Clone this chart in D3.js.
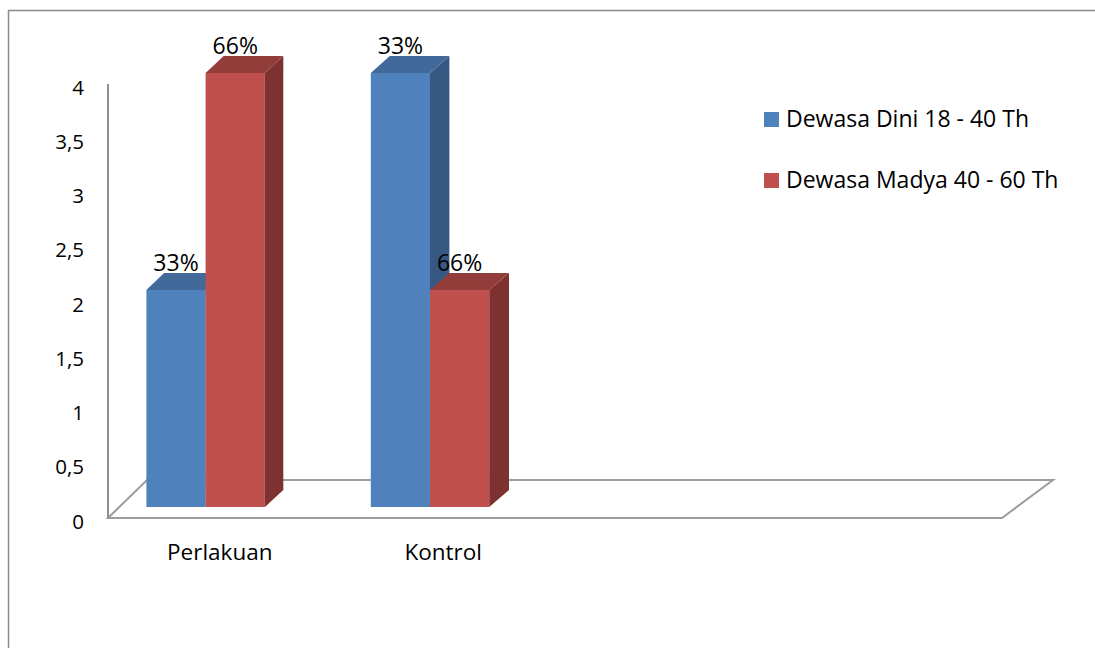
<!DOCTYPE html>
<html>
<head>
<meta charset="utf-8">
<script src="https://cdn.jsdelivr.net/npm/d3@7"></script>
<style>
  html, body { margin: 0; padding: 0; background: #ffffff; }
  svg { display: block; }
  text { font-family: "Open Sans", "Noto Sans", sans-serif; fill: #000; }
</style>
</head>
<body>
<svg id="chart" width="1095" height="648"></svg>
<script>
// Category slots on the floor (the sheet has two empty rows after the data)
const categories = ["Perlakuan", "Kontrol", "", ""];
const seriesNames = ["Dewasa Dini 18 - 40 Th", "Dewasa Madya 40 - 60 Th"];
const dewasaDini = [2, 4, null, null];
const dewasaMadya = [4, 2, null, null];
const dewasaDiniLabels = ["33%", "33%"];
const dewasaMadyaLabels = ["66%", "66%"];
const yTicks = [0, 0.5, 1, 1.5, 2, 2.5, 3, 3.5, 4];
const yTickLabels = ["0", "0,5", "1", "1,5", "2", "2,5", "3", "3,5", "4"];

const colors = [
  { front: "#4F81BD", top: "#41699A", side: "#365882" },
  { front: "#C0504D", top: "#933D3B", side: "#7D3130" }
];

const svg = d3.select("#chart");

// Outer chart frame (left and top edges visible)
svg.append("path")
  .attr("d", "M8.5,648 L8.5,10.5 L1095,10.5")
  .attr("fill", "none")
  .attr("stroke", "#8a8a8a")
  .attr("stroke-width", 1.5);

// Front-plane scales
const x = d3.scaleBand().domain(d3.range(categories.length)).range([108, 1002]);
const xs = d3.scaleBand().domain(seriesNames).range([27, 145]);
const y = d3.scaleLinear().domain([0, 4]).range([518, 84]);

// Oblique projection with a slight widening toward the right
const depthY = 38;
function proj(px, py, z) {
  const k = 39 + (px - 108) * (12 / 894);
  return [px + z * k, py - z * depthY];
}
const pt = p => p[0].toFixed(1) + "," + p[1].toFixed(1);

// Floor outline
const x0 = x.range()[0], x1 = x.range()[1];
const floorFL = proj(x0, y(0), 0), floorFR = proj(x1, y(0), 0);
const floorBL = proj(x0, y(0), 1), floorBR = proj(x1, y(0), 1);
svg.append("path")
  .attr("d", `M${pt(floorFL)} L${pt(floorBL)} L${pt(floorBR)} L${pt(floorFR)} Z`)
  .attr("fill", "none")
  .attr("stroke", "#9c9c9c")
  .attr("stroke-width", 2);

// Value axis line on the front-left edge
svg.append("line")
  .attr("x1", x0).attr("x2", x0)
  .attr("y1", y(4)).attr("y2", y(0))
  .attr("stroke", "#8e8e8e")
  .attr("stroke-width", 2);

// Value axis labels
svg.append("g").selectAll("text")
  .data(yTicks)
  .join("text")
  .attr("x", 84)
  .attr("y", d => y(d) + 10.5)
  .attr("text-anchor", "end")
  .attr("font-size", 20.5)
  .text((d, i) => yTickLabels[i]);

// Category labels
svg.append("g").selectAll("text")
  .data(categories)
  .join("text")
  .attr("x", (d, i) => x(i) + x.bandwidth() / 2)
  .attr("y", 560)
  .attr("text-anchor", "middle")
  .attr("font-size", 22.5)
  .text(d => d);

// 3D bars
const zFront = 0.29, zBack = 0.74;
const seriesValues = [dewasaDini, dewasaMadya];
const seriesLabels = [dewasaDiniLabels, dewasaMadyaLabels];
const bars = [];
categories.forEach((c, i) => {
  seriesNames.forEach((s, j) => {
    const v = seriesValues[j][i];
    if (v == null) return;
    bars.push({ i, j, v, label: seriesLabels[j][i] });
  });
});

const barG = svg.append("g");
bars.forEach(b => {
  const l = x(b.i) + xs(seriesNames[b.j]);
  const r = l + xs.bandwidth();
  const yb = y(0), yt = y(b.v);
  const c = colors[b.j];
  const FLb = proj(l, yb, zFront), FRb = proj(r, yb, zFront);
  const FLt = proj(l, yt, zFront), FRt = proj(r, yt, zFront);
  const BLt = proj(l, yt, zBack), BRt = proj(r, yt, zBack);
  const BRb = proj(r, yb, zBack);
  // right side face
  barG.append("path").attr("d", `M${pt(FRb)} L${pt(BRb)} L${pt(BRt)} L${pt(FRt)} Z`)
    .attr("fill", c.side);
  // top face
  barG.append("path").attr("d", `M${pt(FLt)} L${pt(BLt)} L${pt(BRt)} L${pt(FRt)} Z`)
    .attr("fill", c.top);
  // front face
  barG.append("path").attr("d", `M${pt(FLb)} L${pt(FLt)} L${pt(FRt)} L${pt(FRb)} Z`)
    .attr("fill", c.front);
  b.cx = (FLt[0] + FRt[0]) / 2;
  b.ty = BLt[1];
});

// Data labels
svg.append("g").selectAll("text")
  .data(bars)
  .join("text")
  .attr("x", d => d.cx)
  .attr("y", d => d.ty - 2)
  .attr("text-anchor", "middle")
  .attr("font-size", 23)
  .text(d => d.label);

// Legend
const legend = svg.append("g").attr("transform", "translate(764,112)");
seriesNames.forEach((s, j) => {
  const g = legend.append("g").attr("transform", `translate(0,${j * 61})`);
  g.append("rect").attr("width", 15).attr("height", 15).attr("fill", colors[j].front);
  g.append("text").attr("x", 22).attr("y", 14.5).attr("font-size", 23).text(s);
});
</script>
</body>
</html>
